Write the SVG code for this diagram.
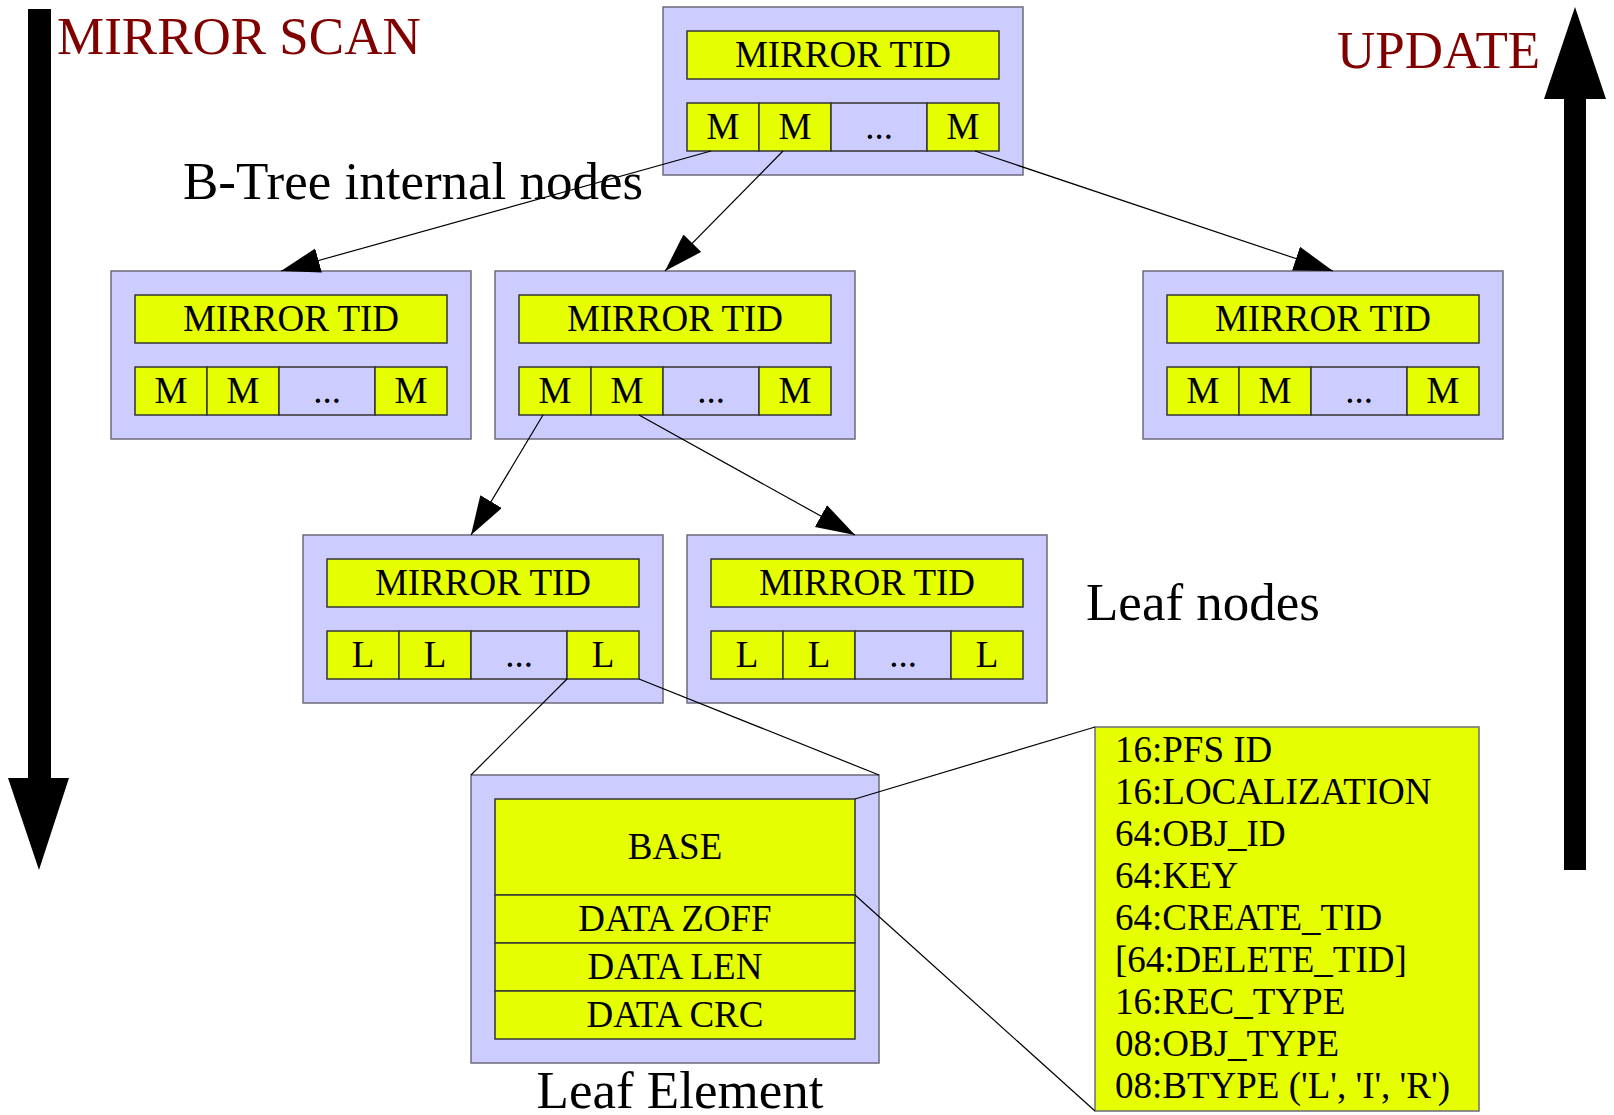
<svg xmlns="http://www.w3.org/2000/svg" width="1614" height="1115" viewBox="0 0 1614 1115">
  <style>
    .outer { fill: #ccccff; stroke: #6b6b7b; stroke-width: 1.5; }
    .cell { fill: #e6ff00; stroke: #333333; stroke-width: 1.5; }
    .gap { fill: #ccccff; stroke: #333333; stroke-width: 1.5; }
    .t { font-family: "Liberation Serif", "Times New Roman", serif; font-size: 37px; fill: #000; text-anchor: middle; }
    .fld { font-family: "Liberation Serif", "Times New Roman", serif; font-size: 37px; fill: #000; }
    .big { font-family: "Liberation Serif", "Times New Roman", serif; font-size: 53px; fill: #000; }
    .red { font-family: "Liberation Serif", "Times New Roman", serif; font-size: 53px; fill: #800000; }
    .link { stroke: #000; stroke-width: 1.2; fill: none; }
  </style>
  <defs>
    <marker id="head" markerUnits="userSpaceOnUse" markerWidth="40" markerHeight="26" refX="39" refY="12.5" orient="auto">
      <path d="M0,0 L39,12.5 L0,25 Z" fill="#000"/>
    </marker>
  </defs>

  <rect width="1614" height="1115" fill="#ffffff"/>

  <!-- direction arrows -->
  <g id="scan-arrow">
    <path d="M28,9 H51 V778 H69 L39,870 L8,778 H28 Z" fill="#000"/>
    <text class="red" x="57" y="54">MIRROR SCAN</text>
  </g>
  <g id="update-arrow">
    <path d="M1564,870 H1586 V99 H1606 L1575,7 L1544,99 H1564 Z" fill="#000"/>
    <text class="red" x="1337" y="68">UPDATE</text>
  </g>

  <text id="label-internal" class="big" x="183" y="199">B-Tree internal nodes</text>
  <text id="label-leaf" class="big" x="1086" y="620">Leaf nodes</text>
  <text id="label-element" class="big" x="680" y="1108" text-anchor="middle">Leaf Element</text>

  <!-- root internal node -->
  <g id="node-root">
    <rect class="outer" x="663" y="7" width="360" height="168"/>
    <rect class="cell" x="687" y="31" width="312" height="48"/>
    <text class="t" x="843" y="67">MIRROR TID</text>
    <rect class="cell" x="687" y="103" width="72" height="48"/>
    <rect class="cell" x="759" y="103" width="72" height="48"/>
    <rect class="gap" x="831" y="103" width="96" height="48"/>
    <rect class="cell" x="927" y="103" width="72" height="48"/>
    <text class="t" x="723" y="139">M</text>
    <text class="t" x="795" y="139">M</text>
    <text class="t" x="879" y="139">...</text>
    <text class="t" x="963" y="139">M</text>
  </g>

  <!-- second level internal nodes -->
  <g id="node-a">
    <rect class="outer" x="111" y="271" width="360" height="168"/>
    <rect class="cell" x="135" y="295" width="312" height="48"/>
    <text class="t" x="291" y="331">MIRROR TID</text>
    <rect class="cell" x="135" y="367" width="72" height="48"/>
    <rect class="cell" x="207" y="367" width="72" height="48"/>
    <rect class="gap" x="279" y="367" width="96" height="48"/>
    <rect class="cell" x="375" y="367" width="72" height="48"/>
    <text class="t" x="171" y="403">M</text>
    <text class="t" x="243" y="403">M</text>
    <text class="t" x="327" y="403">...</text>
    <text class="t" x="411" y="403">M</text>
  </g>
  <g id="node-b">
    <rect class="outer" x="495" y="271" width="360" height="168"/>
    <rect class="cell" x="519" y="295" width="312" height="48"/>
    <text class="t" x="675" y="331">MIRROR TID</text>
    <rect class="cell" x="519" y="367" width="72" height="48"/>
    <rect class="cell" x="591" y="367" width="72" height="48"/>
    <rect class="gap" x="663" y="367" width="96" height="48"/>
    <rect class="cell" x="759" y="367" width="72" height="48"/>
    <text class="t" x="555" y="403">M</text>
    <text class="t" x="627" y="403">M</text>
    <text class="t" x="711" y="403">...</text>
    <text class="t" x="795" y="403">M</text>
  </g>
  <g id="node-c">
    <rect class="outer" x="1143" y="271" width="360" height="168"/>
    <rect class="cell" x="1167" y="295" width="312" height="48"/>
    <text class="t" x="1323" y="331">MIRROR TID</text>
    <rect class="cell" x="1167" y="367" width="72" height="48"/>
    <rect class="cell" x="1239" y="367" width="72" height="48"/>
    <rect class="gap" x="1311" y="367" width="96" height="48"/>
    <rect class="cell" x="1407" y="367" width="72" height="48"/>
    <text class="t" x="1203" y="403">M</text>
    <text class="t" x="1275" y="403">M</text>
    <text class="t" x="1359" y="403">...</text>
    <text class="t" x="1443" y="403">M</text>
  </g>

  <!-- leaf nodes -->
  <g id="leaf-left">
    <rect class="outer" x="303" y="535" width="360" height="168"/>
    <rect class="cell" x="327" y="559" width="312" height="48"/>
    <text class="t" x="483" y="595">MIRROR TID</text>
    <rect class="cell" x="327" y="631" width="72" height="48"/>
    <rect class="cell" x="399" y="631" width="72" height="48"/>
    <rect class="gap" x="471" y="631" width="96" height="48"/>
    <rect class="cell" x="567" y="631" width="72" height="48"/>
    <text class="t" x="363" y="667">L</text>
    <text class="t" x="435" y="667">L</text>
    <text class="t" x="519" y="667">...</text>
    <text class="t" x="603" y="667">L</text>
  </g>
  <g id="leaf-right">
    <rect class="outer" x="687" y="535" width="360" height="168"/>
    <rect class="cell" x="711" y="559" width="312" height="48"/>
    <text class="t" x="867" y="595">MIRROR TID</text>
    <rect class="cell" x="711" y="631" width="72" height="48"/>
    <rect class="cell" x="783" y="631" width="72" height="48"/>
    <rect class="gap" x="855" y="631" width="96" height="48"/>
    <rect class="cell" x="951" y="631" width="72" height="48"/>
    <text class="t" x="747" y="667">L</text>
    <text class="t" x="819" y="667">L</text>
    <text class="t" x="903" y="667">...</text>
    <text class="t" x="987" y="667">L</text>
  </g>

  <!-- leaf element layout -->
  <g id="leaf-element">
    <rect class="outer" x="471" y="775" width="408" height="288"/>
    <rect class="cell" x="495" y="799" width="360" height="96"/>
    <rect class="cell" x="495" y="895" width="360" height="48"/>
    <rect class="cell" x="495" y="943" width="360" height="48"/>
    <rect class="cell" x="495" y="991" width="360" height="48"/>
    <text class="t" x="675" y="859">BASE</text>
    <text class="t" x="675" y="931">DATA ZOFF</text>
    <text class="t" x="675" y="979">DATA LEN</text>
    <text class="t" x="675" y="1027">DATA CRC</text>
  </g>

  <!-- base fields -->
  <g id="base-fields">
    <rect x="1095" y="727" width="384" height="384" fill="#e6ff00" stroke="#6b6b7b" stroke-width="1.5"/>
    <text class="fld" x="1115" y="762">16:PFS ID</text>
    <text class="fld" x="1115" y="804">16:LOCALIZATION</text>
    <text class="fld" x="1115" y="846">64:OBJ_ID</text>
    <text class="fld" x="1115" y="888">64:KEY</text>
    <text class="fld" x="1115" y="930">64:CREATE_TID</text>
    <text class="fld" x="1115" y="972">[64:DELETE_TID]</text>
    <text class="fld" x="1115" y="1014">16:REC_TYPE</text>
    <text class="fld" x="1115" y="1056">08:OBJ_TYPE</text>
    <text class="fld" x="1115" y="1098">08:BTYPE ('L', 'I', 'R')</text>
  </g>

  <!-- connectors -->
  <g id="connectors">
    <line class="link" x1="711" y1="151" x2="281" y2="271" marker-end="url(#head)"/>
    <line class="link" x1="783" y1="151" x2="665" y2="271" marker-end="url(#head)"/>
    <line class="link" x1="975" y1="151" x2="1333" y2="271" marker-end="url(#head)"/>
    <line class="link" x1="543" y1="415" x2="471" y2="535" marker-end="url(#head)"/>
    <line class="link" x1="639" y1="415" x2="855" y2="535" marker-end="url(#head)"/>
    <line class="link" x1="567" y1="679" x2="471" y2="775"/>
    <line class="link" x1="639" y1="679" x2="879" y2="775"/>
    <line class="link" x1="855" y1="799" x2="1095" y2="727"/>
    <line class="link" x1="855" y1="895" x2="1095" y2="1111"/>
  </g>
</svg>
